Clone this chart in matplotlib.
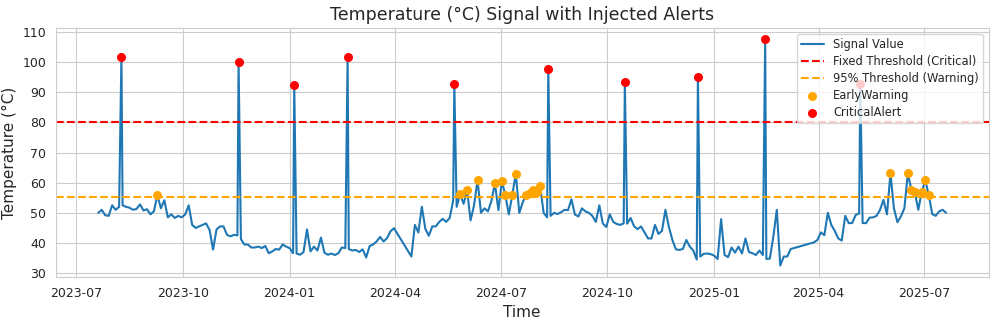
import pandas as pd
import matplotlib
matplotlib.use("Agg")
from matplotlib import pyplot as plt
from matplotlib.ticker import MultipleLocator
import seaborn as sns

# signal readings, every 3 days, in three pieces (there are gaps in the log)
seg1_start = "2023-07-20"
seg1_values = [50, 51, 49.2, 49, 52.5, 51, 52, 52.5, 52, 51.7,
               51, 51.3, 52.8, 50.8, 51.2, 49.5, 50.5, 55.9, 51.5, 54.2,
               48.5, 49.5, 48.3, 49, 48.5, 49.5, 52.5, 46, 45, 45.5,
               46, 46.5, 44.3, 37.8, 44.5, 45.5, 45.5, 42.7, 42.2, 42.7,
               42.5, 41.3, 39.5, 39.5, 38.5, 38.5, 38.8, 38.3, 39, 36.6,
               37.2, 38, 37.8, 39.5, 38.8, 38.3, 36.6, 36.5, 36.1, 37,
               44.5, 37.2, 38.8, 37.5, 41.8, 36.8, 36.1, 36.5, 36, 36.6,
               38.5, 38.3, 38, 37.5, 37.7, 37, 37.9, 35.2, 39, 39.5,
               40.5, 42, 40.5, 41.6, 43.9, 44.9]

seg2_start = "2024-04-15"
seg2_values = [35.5, 46, 43.5, 52, 44.7, 42.4, 45.5, 45.5, 47, 48,
               47, 48.3, 54, 52, 56.2, 53, 57.5, 47.5, 52.5, 60.8,
               50, 51.5, 50.5, 54, 59.8, 50.9, 60.5, 55.8, 49.5, 56,
               63, 50, 53.5, 56, 56.5, 57.5, 57, 58.8, 50, 48.5,
               49, 50, 49.6, 50.2, 51, 50.9, 54.5, 49.4, 48.8, 51.5,
               50.5, 50, 49, 47, 52.5, 46.5, 45.3, 49.5, 47, 46.3,
               46, 46.5, 46.4, 48.3, 45.5, 44.6, 45.5, 43.5, 41.5, 41.5,
               46, 43, 44, 51, 45.3, 41, 37.9, 37.7, 38, 41,
               38.8, 37.5, 34.5, 35.5, 36.4, 36.5, 36.3, 35.8, 34.7, 47.9,
               36, 35.3, 38.5, 36.8, 38.8, 36.5, 41.5, 37, 36.6, 36,
               37.5, 36, 34.7, 34.8, 42, 51, 32.5, 35.5, 35.5, 38]

seg3_start = "2025-03-28"
seg3_values = [40.2, 41, 43.5, 42.6, 50, 46, 44, 41.5, 40.8, 49,
               46.6, 46.6, 49.3, 49.8, 46.6, 46.6, 48.4, 48.5, 49, 51,
               54.3, 49.5, 63.1, 51.5, 46.9, 48.8, 51.5, 63.1, 57.7, 56.8,
               51, 57, 60.8, 56, 49.6, 49, 50.5, 51, 50]

# injected one-day spikes
spike_dates = ["2023-08-09", "2023-11-18", "2024-01-05", "2024-02-20", "2024-05-22",
               "2024-08-11", "2024-10-16", "2024-12-18", "2025-02-14", "2025-05-07"]
spike_values = [101.8, 100.2, 92.3, 101.8, 92.7, 97.7, 93.3, 95, 107.6, 92.6]

critical_threshold = 80
warning_threshold = 55.2   # 95th percentile


def segment(start, values):
    return pd.Series(values, index=pd.date_range(start, periods=len(values), freq="3D"))


signal = pd.concat([
    segment(seg1_start, seg1_values),
    segment(seg2_start, seg2_values),
    segment(seg3_start, seg3_values),
    pd.Series(spike_values, index=pd.to_datetime(spike_dates)),
]).sort_index()

early = signal[(signal > warning_threshold) & (signal <= critical_threshold)]
critical = signal[signal > critical_threshold]

sns.set_style("whitegrid")
plt.rcParams['font.family'] = ['DejaVu Sans']

fig, ax = plt.subplots(figsize=(9.97, 3.25), dpi=100)
ax.plot(signal.index, signal.values, color='#1f77b4', linewidth=1.5, label='Signal Value')
ax.axhline(critical_threshold, color='red', linestyle='--', linewidth=1.5, label='Fixed Threshold (Critical)')
ax.axhline(warning_threshold, color='orange', linestyle='--', linewidth=1.5, label='95% Threshold (Warning)')
ax.scatter(early.index, early.values, color='orange', s=30, zorder=3, label='EarlyWarning')
ax.scatter(critical.index, critical.values, color='red', s=30, zorder=3, label='CriticalAlert')

ax.yaxis.set_major_locator(MultipleLocator(10))
ax.tick_params(labelsize=9)
ax.set_title('Temperature (°C) Signal with Injected Alerts', fontsize=12.5)
ax.set_xlabel('Time', fontsize=11)
ax.set_ylabel('Temperature (°C)', fontsize=11)
ax.legend(loc='upper right', fontsize=8.3, labelspacing=0.35, borderpad=0.35)

fig.subplots_adjust(left=0.056, right=0.9915, top=0.914, bottom=0.148)
fig.savefig('out.png', dpi=100)
